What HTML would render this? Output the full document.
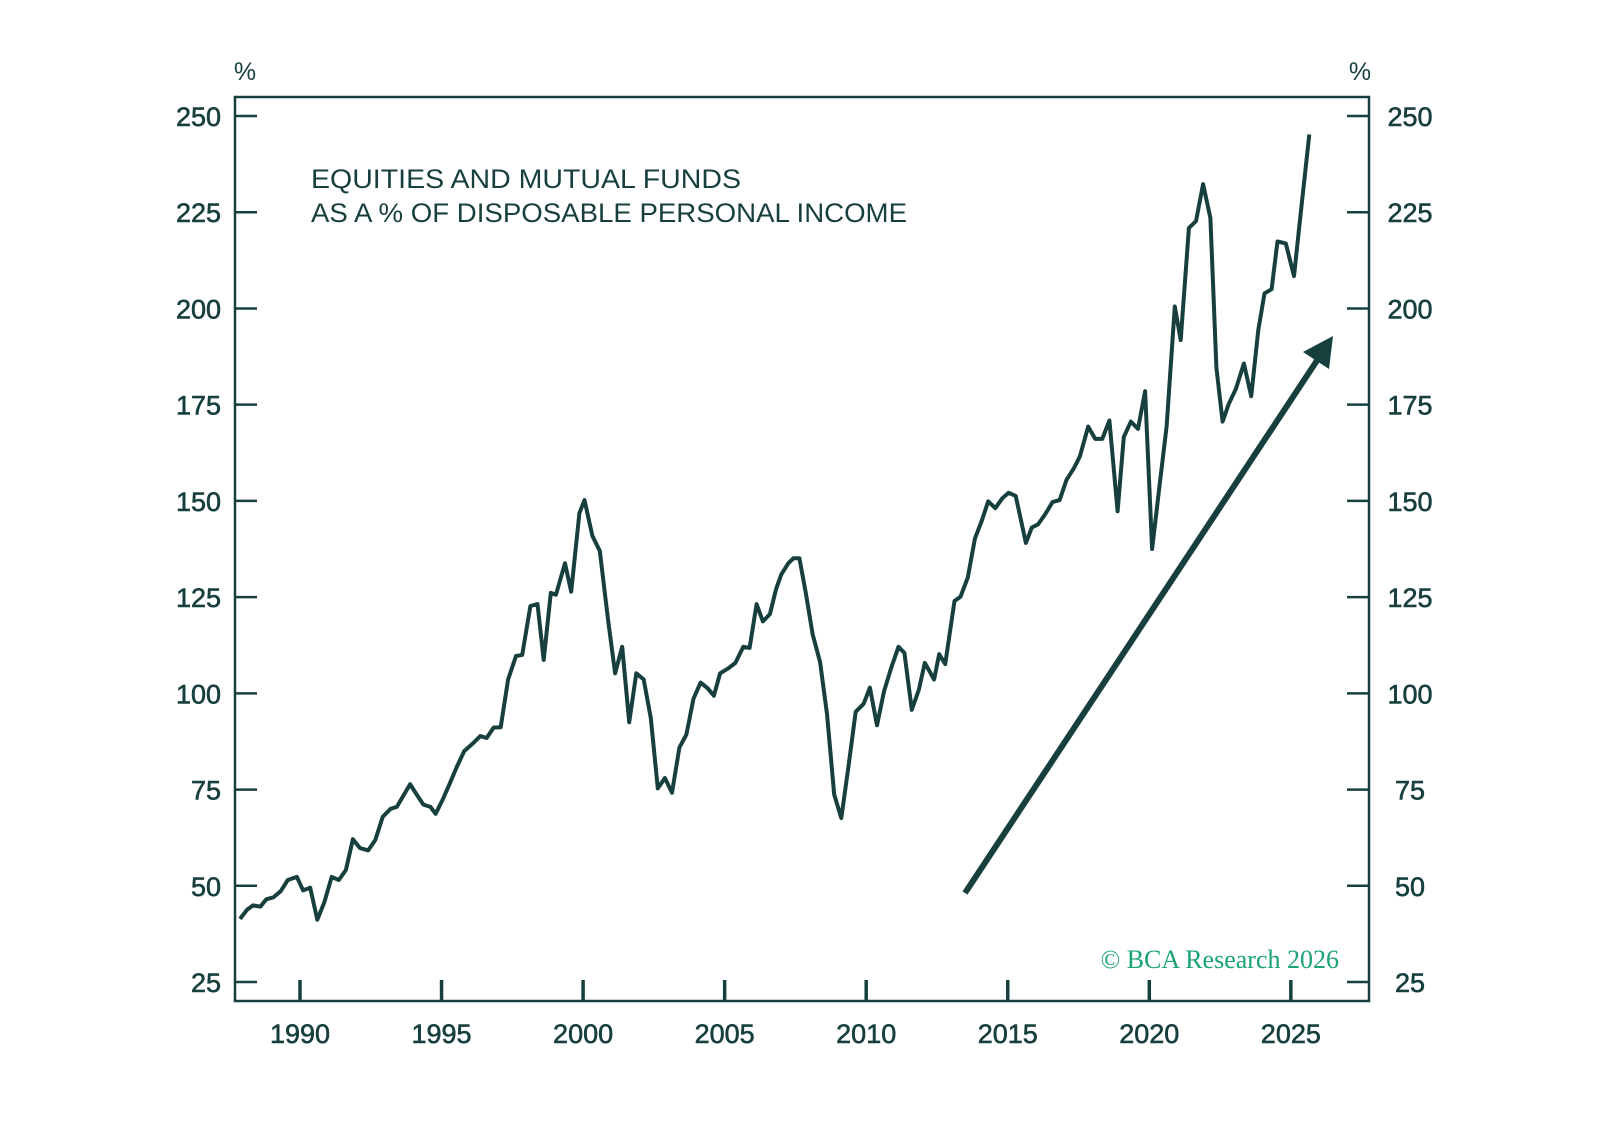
<!DOCTYPE html>
<html><head><meta charset="utf-8">
<style>
html,body{margin:0;padding:0;background:#fff;}
svg{display:block;font-family:"Liberation Sans",sans-serif;}
</style></head>
<body>
<svg id="chart" width="1597" height="1144" viewBox="0 0 1597 1144" xmlns="http://www.w3.org/2000/svg">
<rect x="235" y="97" width="1134" height="904" fill="none" stroke="#173f3e" stroke-width="2.5"/>
<g id="axes"></g>
<text x="245" y="80" font-size="25" fill="#173f3e" text-anchor="middle">%</text>
<text x="1360" y="80" font-size="25" fill="#173f3e" text-anchor="middle">%</text>
<text x="311" y="188" font-size="27" fill="#173f3e" textLength="430" lengthAdjust="spacingAndGlyphs">EQUITIES AND MUTUAL FUNDS</text>
<text x="311" y="222" font-size="27" fill="#173f3e" textLength="596" lengthAdjust="spacingAndGlyphs">AS A % OF DISPOSABLE PERSONAL INCOME</text>
<text x="1339" y="968" font-size="26" fill="#1aa37a" text-anchor="end" font-family="Liberation Serif,serif">© BCA Research 2026</text>
<path id="series" fill="none" stroke="#173f3e" stroke-width="4" stroke-linejoin="round"/>
<line x1="965" y1="893" x2="1320" y2="356" stroke="#173f3e" stroke-width="6"/>
<polygon points="1333,336 1329,369 1303,352" fill="#173f3e"/>
</svg>
<script>
const years=[1987.88,1988.13,1988.34,1988.60,1988.81,1989.06,1989.32,1989.57,1989.89,1990.11,1990.36,1990.61,1990.86,1991.12,1991.37,1991.62,1991.87,1992.12,1992.41,1992.66,1992.92,1993.20,1993.42,1993.89,1994.14,1994.36,1994.61,1994.79,1995.04,1995.29,1995.54,1995.80,1996.12,1996.37,1996.59,1996.84,1997.09,1997.35,1997.63,1997.85,1998.14,1998.39,1998.61,1998.86,1999.04,1999.36,1999.58,1999.87,2000.05,2000.33,2000.59,2000.88,2001.13,2001.38,2001.63,2001.88,2002.14,2002.39,2002.64,2002.89,2003.14,2003.40,2003.65,2003.90,2004.15,2004.40,2004.62,2004.84,2005.13,2005.38,2005.66,2005.88,2006.13,2006.35,2006.60,2006.82,2007.00,2007.25,2007.43,2007.64,2007.86,2008.11,2008.37,2008.62,2008.87,2009.12,2009.37,2009.63,2009.91,2010.13,2010.38,2010.63,2010.89,2011.14,2011.35,2011.61,2011.86,2012.07,2012.40,2012.58,2012.79,2013.12,2013.33,2013.59,2013.84,2014.09,2014.31,2014.56,2014.81,2015.03,2015.28,2015.64,2015.85,2016.07,2016.32,2016.58,2016.83,2017.08,2017.33,2017.55,2017.84,2018.09,2018.34,2018.59,2018.88,2019.10,2019.35,2019.60,2019.85,2020.10,2020.36,2020.61,2020.90,2021.11,2021.40,2021.65,2021.90,2022.16,2022.37,2022.59,2022.80,2023.06,2023.34,2023.60,2023.85,2024.07,2024.32,2024.53,2024.82,2025.11,2025.33,2025.65];
const values=[41.4,43.8,44.9,44.6,46.5,47.0,48.6,51.5,52.3,48.8,49.5,41.2,45.7,52.3,51.5,54.1,62.1,59.8,59.2,61.9,67.9,70.0,70.5,76.4,73.5,71.1,70.5,68.7,72.4,76.6,80.9,85.0,87.1,88.9,88.4,91.1,91.2,103.6,109.7,110.0,122.7,123.2,108.7,126.1,125.6,133.8,126.4,146.8,150.2,140.9,137.0,119.2,105.2,112.1,92.5,105.2,103.6,93.6,75.3,78.0,74.2,85.9,89.3,98.6,102.8,101.3,99.4,105.2,106.5,107.9,112.1,111.8,123.2,118.7,120.6,127.2,130.9,133.8,135.1,135.1,126.4,115.3,108.1,94.4,73.7,67.6,80.9,95.2,97.3,101.5,91.7,100.5,106.8,112.1,110.5,95.7,101.0,107.9,103.6,110.2,107.6,124.0,125.1,130.1,140.2,145.0,149.9,148.1,150.7,152.1,151.3,139.1,143.1,143.9,146.5,149.7,150.2,155.5,158.4,161.6,169.3,166.1,166.1,170.9,147.3,166.6,170.6,168.7,178.5,137.5,153.9,169.3,200.5,191.8,220.9,222.7,232.3,223.5,184.6,170.6,175.1,179.1,185.7,177.2,194.4,203.9,205.0,217.4,216.9,208.4,223.5,245.2];
const yTicks=[25,50,75,100,125,150,175,200,225,250];
const xTicks=[1990,1995,2000,2005,2010,2015,2020,2025];
const X=yr=>300+(yr-1990)*28.31;
const Y=v=>116+(250-v)*3.849;
const NS="http://www.w3.org/2000/svg";
const g=document.getElementById('axes');
function mk(tag,attrs,txt){const e=document.createElementNS(NS,tag);for(const k in attrs)e.setAttribute(k,attrs[k]);if(txt!==undefined)e.textContent=txt;g.appendChild(e);return e;}
yTicks.forEach(v=>{
  const y=Y(v);
  let t=mk('line',{x1:235,x2:257,y1:y,y2:y,stroke:'#173f3e','stroke-width':2.5});
  
  
  t=mk('line',{x1:1347,x2:1369,y1:y,y2:y,stroke:'#173f3e','stroke-width':2.5});
  
  
  t=mk('text',{x:221,y:y+10,'font-size':27,fill:'#173f3e','text-anchor':'end',stroke:'#173f3e','stroke-width':0.6},String(v));
  
  
  t=mk('text',{x:1410,y:y+10,'font-size':27,fill:'#173f3e','text-anchor':'middle',stroke:'#173f3e','stroke-width':0.6},String(v));
  
  
});
xTicks.forEach(yr=>{
  const x=X(yr);
  let t=mk('line',{x1:x,x2:x,y1:980,y2:1001,stroke:'#173f3e','stroke-width':3.5});
  
  
  t=mk('text',{x:x,y:1043,'font-size':27,fill:'#173f3e','text-anchor':'middle',stroke:'#173f3e','stroke-width':0.6},String(yr));
  
  
});
document.getElementById('series').setAttribute('d',years.map((yr,i)=>(i?'L':'M')+X(yr).toFixed(1)+' '+Y(values[i]).toFixed(1)).join(' '));
</script>
</body></html>
